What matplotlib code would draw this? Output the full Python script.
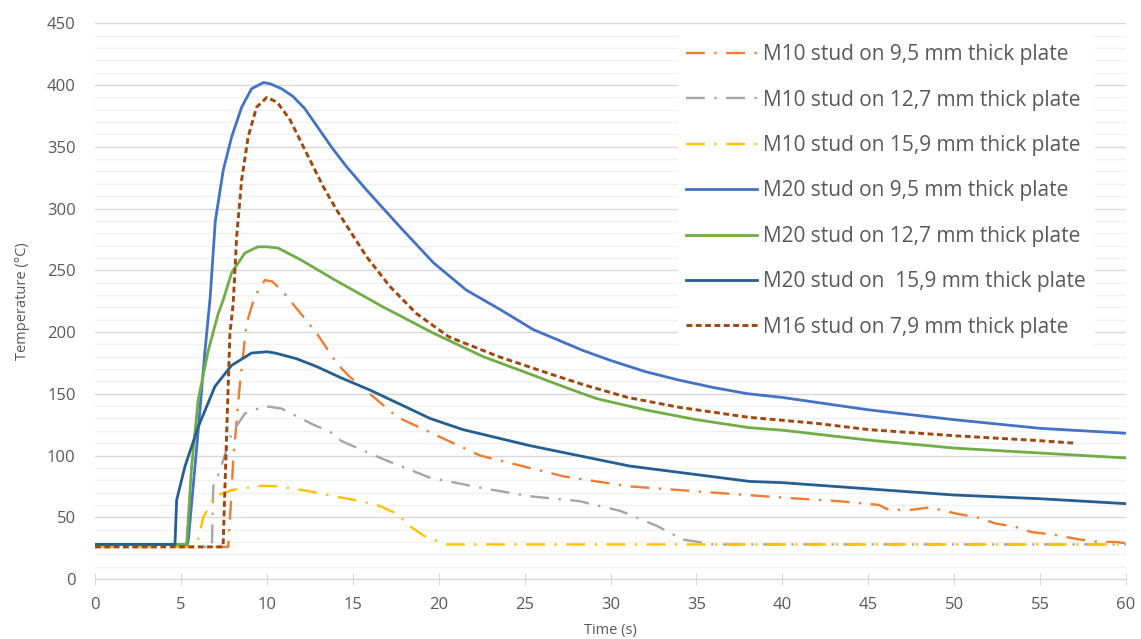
import matplotlib
matplotlib.use("Agg")
import matplotlib.pyplot as plt
from matplotlib.ticker import MultipleLocator

plt.rcParams["font.family"] = ["Open Sans", "DejaVu Sans"]

# M10 stud on 9,5 mm thick plate
t_m10_95 = [0, 7.75, 7.9, 8.04, 8.43, 8.82, 9.3, 9.88, 10.3, 10.85, 11.5, 12.9, 14.1, 14.8,
            17.6, 22.4, 27.3, 31.1, 37.9, 41.0, 43.3, 45.6, 46.2, 47.5, 48.6, 50.1, 51.3,
            52.4, 53.6, 54.5, 55.7, 57.3, 58.4, 59.4, 60]
y_m10_95 = [26, 26, 60, 96, 158, 207, 229, 242, 241, 234, 223, 199, 174, 164,
            131, 100, 83, 75, 68, 65, 63, 60, 56, 56, 58, 53, 50,
            45, 42, 38, 36, 32, 30, 30, 29]

# M10 stud on 12,7 mm thick plate
t_m10_127 = [0, 6.8, 6.88, 7.27, 7.95, 8.72, 9.88, 10.85, 12.7, 13.7, 14.3, 16.6, 19.5,
             22.4, 25.3, 28.2, 30.6, 32.7, 34.2, 36.0, 60]
y_m10_127 = [26, 26, 75, 88, 118, 134, 140, 138, 125, 119, 112, 98, 82,
             74, 67, 63, 55, 43, 32, 28, 28]

# M10 stud on 15,9 mm thick plate
t_m10_159 = [0, 5.9, 6.0, 6.3, 6.98, 7.95, 9.7, 10.7, 12.5, 13.9, 15.5, 16.6, 17.6,
             18.3, 19.3, 20.5, 60]
y_m10_159 = [26, 26, 32, 50, 67, 72, 75.5, 75, 71, 67, 63, 59, 52.5,
             43, 33.5, 28, 28]

# M20 stud on 9,5 mm thick plate
t_m20_95 = [0, 5.38, 5.43, 5.9, 6.4, 6.7, 7.0, 7.46, 7.95, 8.53, 9.11, 9.8, 10.2, 10.85,
            11.5, 12.2, 13.0, 13.8, 14.63, 15.8, 17.75, 19.7, 21.6, 23.6, 25.5, 28.4, 30.0,
            32.0, 34.0, 36.0, 38.0, 40.0, 45.0, 50.0, 55.0, 60.0]
y_m20_95 = [28, 28, 32, 104, 185, 228, 290, 331, 358, 382, 397, 402, 401, 397,
            391, 381, 365, 349, 334, 315, 285, 256, 234, 218, 202, 185, 177,
            168, 161, 155, 150, 147, 137, 129, 122, 118]

# M20 stud on 12,7 mm thick plate
t_m20_127 = [0, 5.33, 5.62, 6.0, 6.59, 7.17, 7.46, 7.95, 8.72, 9.48, 10.0, 10.64, 11.9,
             13.85, 16.8, 19.7, 22.6, 25.5, 27.4, 29.2, 32.0, 35.0, 38.1, 40.0, 45.0,
             50.0, 55.0, 60.0]
y_m20_127 = [28, 28, 91, 145, 185, 215, 226, 248, 264, 269, 269, 268, 259,
             243, 220, 199, 180, 165, 155, 146, 137, 129, 122.5, 120.5, 112.5,
             106, 102, 98]

# M20 stud on 15,9 mm thick plate
t_m20_159 = [0, 4.65, 4.75, 5.23, 6.0, 6.98, 7.95, 9.11, 10.0, 10.47, 11.7, 12.9, 14.3,
             16.0, 19.5, 21.4, 25.3, 31.1, 38.1, 40.0, 45.0, 50.0, 55.0, 60.0]
y_m20_159 = [28, 28, 64, 91, 123, 156, 173, 183, 184, 183, 178.5, 172, 163,
             153, 130, 121, 108, 91.5, 79, 78, 73, 68, 65, 61]

# M16 stud on 7,9 mm thick plate
t_m16_79 = [0, 7.45, 7.66, 7.85, 8.04, 8.24, 8.53, 8.91, 9.4, 10.0, 10.6, 11.34, 12.3,
            13.27, 14.05, 15.8, 17.15, 18.7, 20.6, 23.5, 26.5, 28.5, 31.0, 34.0, 38.0,
            42.0, 45.0, 50.0, 55.0, 57.0]
y_m16_79 = [26, 26, 118, 199, 223, 277, 323, 358, 382, 390, 386, 372, 345,
            318, 299, 261, 237, 215, 196, 180, 166, 157, 147, 139, 131,
            126, 121, 116, 112, 110]

series = [
    ("M10 stud on 9,5 mm thick plate", t_m10_95, y_m10_95, "#ED7D31", "dashdot"),
    ("M10 stud on 12,7 mm thick plate", t_m10_127, y_m10_127, "#A5A5A5", "dashdot"),
    ("M10 stud on 15,9 mm thick plate", t_m10_159, y_m10_159, "#FFC000", "dashdot"),
    ("M20 stud on 9,5 mm thick plate", t_m20_95, y_m20_95, "#4472C4", "solid"),
    ("M20 stud on 12,7 mm thick plate", t_m20_127, y_m20_127, "#70AD47", "solid"),
    ("M20 stud on  15,9 mm thick plate", t_m20_159, y_m20_159, "#255E91", "solid"),
    ("M16 stud on 7,9 mm thick plate", t_m16_79, y_m16_79, "#9E480E", "dotted"),
]

fig = plt.figure(figsize=(11.41, 6.39), dpi=100)
ax = fig.add_axes([0.0833, 0.0939, 0.9036, 0.8697])

for label, t, y, color, style in series:
    if style == "dashdot":
        ax.plot(t, y, color=color, lw=1.7, linestyle=(0, (8, 4, 1, 4)), label=label,
                solid_joinstyle="round")
    elif style == "dotted":
        ax.plot(t, y, color=color, lw=2.1, linestyle=(0, (2.0, 1.2)), label=label)
    else:
        ax.plot(t, y, color=color, lw=2.0, label=label, solid_joinstyle="round")

ax.set_xlim(0, 60)
ax.set_ylim(0, 450)
ax.xaxis.set_major_locator(MultipleLocator(5))
ax.yaxis.set_major_locator(MultipleLocator(50))
ax.yaxis.set_minor_locator(MultipleLocator(10))

ax.grid(True, which="major", axis="y", color="#D9D9D9", lw=1.0)
ax.grid(True, which="minor", axis="y", color="#F0F0F0", lw=1.0)
ax.set_axisbelow(True)

for side in ["top", "right", "left"]:
    ax.spines[side].set_visible(False)
ax.spines["bottom"].set_color("#D9D9D9")
ax.spines["bottom"].set_linewidth(1.0)

ax.tick_params(axis="y", which="both", length=0, labelsize=12, labelcolor="#595959", pad=14)
ax.tick_params(axis="x", which="major", direction="inout", length=8, color="#D9D9D9",
               labelsize=12, labelcolor="#595959", pad=9)

ax.set_xlabel("Time (s)", fontsize=10.5, color="#595959", labelpad=7)
ax.set_ylabel("Temperature (°C)", fontsize=10.5, color="#595959", labelpad=12)

leg = ax.legend(loc="upper left", bbox_to_anchor=(678 / 1141, 1 - 36 / 639),
                bbox_transform=fig.transFigure, frameon=True, fontsize=15,
                handlelength=3.4, handletextpad=0.3, labelspacing=1.17,
                borderaxespad=0, borderpad=0.4)
leg.get_frame().set_facecolor("white")
leg.get_frame().set_edgecolor("none")
leg.get_frame().set_alpha(1)
for txt in leg.get_texts():
    txt.set_color("#595959")

fig.savefig("out.png", dpi=100)
